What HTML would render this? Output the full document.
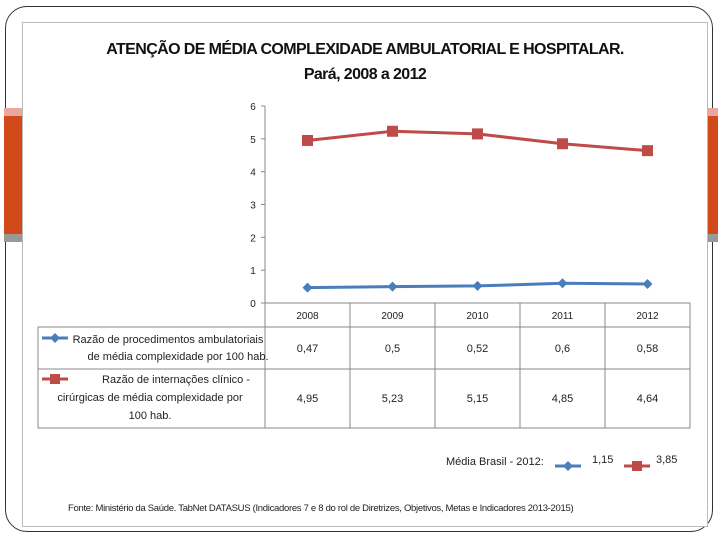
<!DOCTYPE html>
<html><head><meta charset="utf-8"><style>
body{margin:0;width:720px;height:540px;background:#fff;position:relative;overflow:hidden;font-family:"Liberation Sans",sans-serif}
.abs{position:absolute}
</style></head><body>
<div class="abs" style="left:5px;top:6px;width:708px;height:526px;border:1px solid #333;border-radius:22px;box-sizing:border-box"></div>
<div class="abs" style="left:22px;top:22px;width:686px;height:505px;border:1px solid #bbb;box-sizing:border-box;background:#fff"></div>
<div class="abs" style="left:4px;top:108px;width:18px;height:134px;background:linear-gradient(#e8a8a0 0 8px,#d24a1a 8px 126px,#999 126px)"></div>
<div class="abs" style="left:708px;top:108px;width:10px;height:134px;background:linear-gradient(#e8a8a0 0 8px,#d24a1a 8px 126px,#999 126px)"></div>
<div class="abs" style="left:22px;top:37px;width:686px;text-align:center;font-weight:bold;font-size:16px;line-height:25px;color:#111;letter-spacing:-0.6px">ATENÇÃO DE MÉDIA COMPLEXIDADE AMBULATORIAL E HOSPITALAR.<br>Pará, 2008 a 2012</div>
<svg class="abs" style="left:0;top:0" width="720" height="540" id="chart"></svg>
<div class="abs" style="left:446px;top:456px;font-size:11px;color:#222">Média Brasil - 2012:</div>
<div class="abs" style="left:592px;top:454px;font-size:11px;color:#222">1,15</div>
<div class="abs" style="left:656px;top:454px;font-size:11px;color:#222">3,85</div>
<div class="abs" style="left:68px;top:503px;font-size:9.5px;color:#222;letter-spacing:-0.3px">Fonte: Ministério da Saúde. TabNet DATASUS (Indicadores 7 e 8 do rol de Diretrizes, Objetivos, Metas e Indicadores 2013-2015)</div>
<script>
const categories=["2008","2009","2010","2011","2012"];
const ambulatorial=[0.47,0.5,0.52,0.6,0.58];
const internacoes=[4.95,5.23,5.15,4.85,4.64];
const ambLabels=["0,47","0,5","0,52","0,6","0,58"];
const intLabels=["4,95","5,23","5,15","4,85","4,64"];
const yTicks=[0,1,2,3,4,5,6];
const NS="http://www.w3.org/2000/svg";
const svg=document.getElementById('chart');
const x0=265,x1=690,yTop=106,yBot=303,yMax=6;
const bw=(x1-x0)/categories.length;
const X=i=>x0+bw*(i+0.5);
const Y=v=>yBot-(v/yMax)*(yBot-yTop);
function mk(t,a){const e=document.createElementNS(NS,t);for(const k in a)e.setAttribute(k,a[k]);svg.appendChild(e);return e;}
let e=mk('line',{x1:x0,y1:yTop,x2:x0,y2:yBot,stroke:'#888'});

yTicks.forEach(t=>{
 let l=mk('line',{x1:x0-4,y1:Y(t),x2:x0,y2:Y(t),stroke:'#888'});
 
 let tx=mk('text',{x:x0-12,y:Y(t)+4,'font-size':10,'text-anchor':'middle',fill:'#222'});tx.textContent=t;
 
});
// table
const tL=38,rows=[303,327,369,428];
let g=mk('rect',{x:x0,y:303,width:x1-x0,height:24,fill:'none',stroke:'#888'});

g=mk('rect',{x:tL,y:327,width:x1-tL,height:101,fill:'none',stroke:'#888'});

g=mk('line',{x1:tL,y1:369,x2:x1,y2:369,stroke:'#888'});

for(let i=0;i<=categories.length;i++){g=mk('line',{x1:x0+bw*i,y1:303,x2:x0+bw*i,y2:428,stroke:'#888'});
 }
categories.forEach((c,i)=>{
 let t=mk('text',{x:X(i),y:319,'font-size':10,'text-anchor':'middle',fill:'#222'});t.textContent=c;
 
 t=mk('text',{x:X(i),y:352,'font-size':11,'text-anchor':'middle',fill:'#222'});t.textContent=ambLabels[i];
 
 t=mk('text',{x:X(i),y:402,'font-size':11,'text-anchor':'middle',fill:'#222'});t.textContent=intLabels[i];
 
});
function txt(s,x,y,name){let t=mk('text',{x:x,y:y,'font-size':11,'text-anchor':'middle',fill:'#222'});t.textContent=s;
 }
txt('Razão de procedimentos ambulatoriais',168,343,'series-label-ambulatorial');
txt('de média complexidade por 100 hab.',178,360,'series-label-ambulatorial');
txt('Razão de internações clínico -',176,383,'series-label-internacoes');
txt('cirúrgicas de média complexidade por',150,401,'series-label-internacoes');
txt('100 hab.',150,419,'series-label-internacoes');
function diamond(x,y,s,c,name){let d=mk('path',{d:`M${x} ${y-s}L${x+s} ${y}L${x} ${y+s}L${x-s} ${y}Z`,fill:c});
 }
function square(x,y,s,c,name){let d=mk('rect',{x:x-s,y:y-s,width:2*s,height:2*s,fill:c});
 }
function key(x,y,type,name){let l=mk('line',{x1:x-13,y1:y,x2:x+13,y2:y,stroke:type?'#be4b48':'#4a7ebb','stroke-width':3});
 
 type?square(x,y,5,'#be4b48',name+'-marker'):diamond(x,y,5,'#4a7ebb',name+'-marker');}
key(55,338,0,'legend-key-ambulatorial');key(55,379,1,'legend-key-internacoes');
key(568,466,0,'brasil-key-ambulatorial');key(637,466,1,'brasil-key-internacoes');
// lines
let p=mk('polyline',{points:internacoes.map((v,i)=>X(i)+','+Y(v)).join(' '),fill:'none',stroke:'#be4b48','stroke-width':3});

internacoes.forEach((v,i)=>square(X(i),Y(v),5.5,'#be4b48','internacoes-point'));
p=mk('polyline',{points:ambulatorial.map((v,i)=>X(i)+','+Y(v)).join(' '),fill:'none',stroke:'#4a7ebb','stroke-width':3});

ambulatorial.forEach((v,i)=>diamond(X(i),Y(v),5,'#4a7ebb','ambulatorial-point'));
</script>
</body></html>
